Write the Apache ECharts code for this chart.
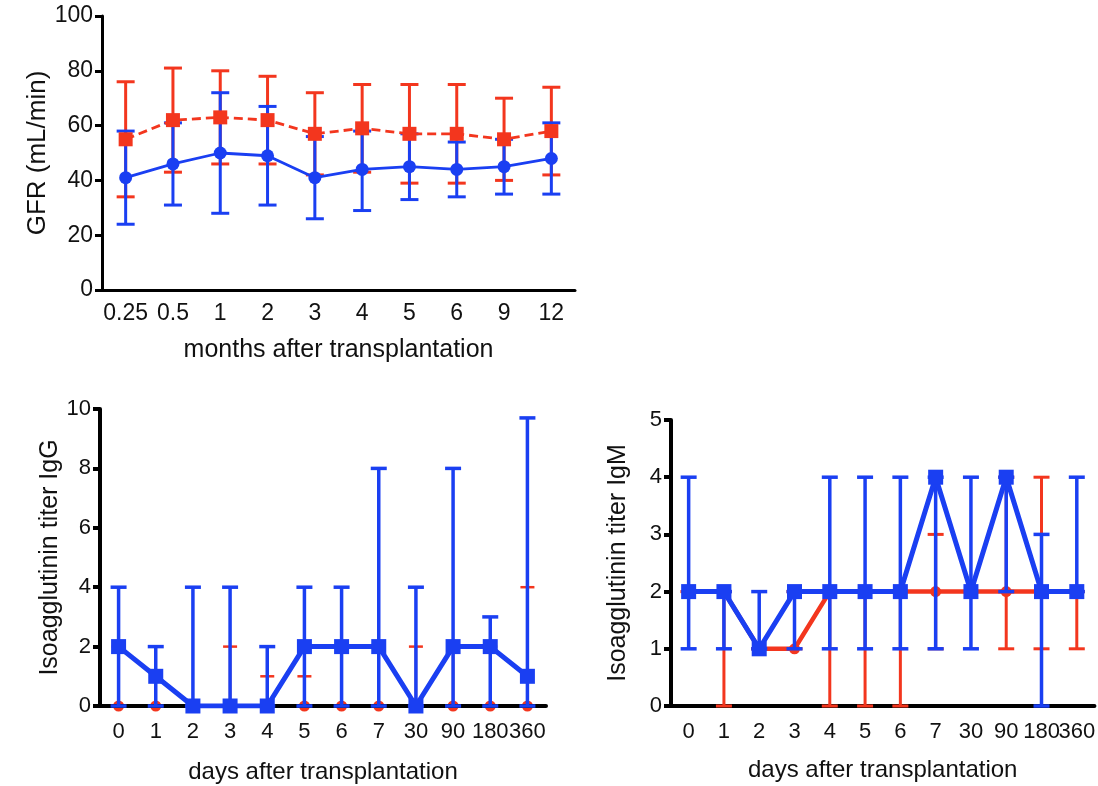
<!DOCTYPE html>
<html>
<head>
<meta charset="utf-8">
<script src="https://cdn.jsdelivr.net/npm/echarts@6/dist/echarts.min.js"></script>
<style>
  html, body { margin: 0; padding: 0; background: #fff; }
  #main { width: 1098px; height: 786px; }
</style>
</head>
<body>
<div id="main"></div>
<script>
// GFR chart (months)
var months = ['0.25', '0.5', '1', '2', '3', '4', '5', '6', '9', '12'];
var gfrRedMean = [55, 62, 63, 62, 57, 59, 57, 57, 55, 58];
var gfrRedHigh = [76, 81, 80, 78, 72, 75, 75, 75, 70, 74];
var gfrRedLow = [34, 43, 46, 46, 42, 43, 39, 39, 40, 42];
var gfrBlueMean = [41, 46, 50, 49, 41, 44, 45, 44, 45, 48];
var gfrBlueHigh = [58, 61, 72, 67, 56, 58, 57, 54, 55, 61];
var gfrBlueLow = [24, 31, 28, 31, 26, 29, 33, 34, 35, 35];

// Isoagglutinin titers (days)
var days = ['0', '1', '2', '3', '4', '5', '6', '7', '30', '90', '180', '360'];
var iggRedMed = [0, 0, 0, 0, 0, 0, 0, 0, 0, 0, 0, 0];
var iggRedHigh = [2, 0, 0, 2, 1, 1, 2, 2, 2, 2, 2, 4];
var iggRedLow = [0, 0, 0, 0, 0, 0, 0, 0, 0, 0, 0, 0];
var iggBlueMed = [2, 1, 0, 0, 0, 2, 2, 2, 0, 2, 2, 1];
var iggBlueHigh = [4, 2, 4, 4, 2, 4, 4, 8, 4, 8, 3, 9.7];
var iggBlueLow = [0, 0, 0, 0, 0, 0, 0, 0, 0, 0, 0, 0];

var igmRedMed = [2, 2, 1, 1, 2, 2, 2, 2, 2, 2, 2, 2];
var igmRedHigh = [2, 2, 1, 2, 2, 2, 2, 3, 2, 4, 4, 2];
var igmRedLow = [2, 0, 1, 1, 0, 0, 0, 1, 2, 1, 1, 1];
var igmBlueMed = [2, 2, 1, 2, 2, 2, 2, 4, 2, 4, 2, 2];
var igmBlueHigh = [4, 2, 2, 2, 4, 4, 4, 4, 4, 4, 3, 4];
var igmBlueLow = [1, 1, 1, 1, 1, 1, 1, 1, 1, 2, 0, 2];

var RED = '#f3361e';
var BLUE = '#1a3ff2';
var FONT = 'Liberation Sans';

function errorBars(idx, high, low, color, capW, lw, z) {
  return {
    type: 'custom',
    xAxisIndex: idx,
    yAxisIndex: idx,
    z: z,
    silent: true,
    data: high.map(function (h, i) { return [i, h, low[i]]; }),
    encode: { x: 0, y: [1, 2] },
    renderItem: function (params, api) {
      var x = api.value(0);
      var hi = api.coord([x, api.value(1)]);
      var lo = api.coord([x, api.value(2)]);
      var st = { stroke: color, lineWidth: lw };
      return {
        type: 'group',
        children: [
          { type: 'line', shape: { x1: hi[0], y1: hi[1], x2: lo[0], y2: lo[1] }, style: st },
          { type: 'line', shape: { x1: hi[0] - capW / 2, y1: hi[1], x2: hi[0] + capW / 2, y2: hi[1] }, style: st },
          { type: 'line', shape: { x1: lo[0] - capW / 2, y1: lo[1], x2: lo[0] + capW / 2, y2: lo[1] }, style: st }
        ]
      };
    }
  };
}

function lineSeries(idx, data, color, symbol, size, width, dashed, z) {
  return {
    type: 'line',
    xAxisIndex: idx,
    yAxisIndex: idx,
    z: z,
    data: data,
    symbol: symbol,
    symbolSize: size,
    showSymbol: true,
    itemStyle: { color: color },
    lineStyle: { color: color, width: width, type: dashed ? [9, 5] : 'solid' },
    emphasis: { disabled: true }
  };
}

function xAxisCfg(grid, cats, name, font, nameFont, lw, margin, nameGap, z) {
  return {
    type: 'category',
    gridIndex: grid,
    data: cats,
    boundaryGap: true,
    z: z,
    name: name,
    nameLocation: 'middle',
    nameGap: nameGap,
    nameTextStyle: { fontFamily: FONT, fontSize: nameFont, color: '#111' },
    axisLine: { onZero: false, lineStyle: { color: '#000', width: lw } },
    axisTick: { alignWithLabel: true, length: 8, lineStyle: { color: '#000', width: lw } },
    axisLabel: { fontFamily: FONT, fontSize: font, color: '#111', margin: margin, interval: 0 },
    splitLine: { show: false }
  };
}

function yAxisCfg(grid, max, step, name, font, nameFont, lw, nameGap) {
  return {
    type: 'value',
    gridIndex: grid,
    min: 0,
    max: max,
    interval: step,
    name: name,
    nameLocation: 'middle',
    nameGap: nameGap,
    nameTextStyle: { fontFamily: FONT, fontSize: nameFont, color: '#111' },
    axisLine: { show: true, onZero: false, lineStyle: { color: '#000', width: lw } },
    axisTick: { show: true, length: 7, lineStyle: { color: '#000', width: lw } },
    axisLabel: { fontFamily: FONT, fontSize: font, color: '#111', margin: 9 },
    splitLine: { show: false }
  };
}

var chart = echarts.init(document.getElementById('main'), null, { renderer: 'canvas' });

var option = {
  animation: false,
  backgroundColor: '#fff',
  grid: [
    { left: 102, top: 16, width: 473, height: 274 },
    { left: 100, top: 409, width: 446, height: 297 },
    { left: 671, top: 420, width: 427, height: 286 }
  ],
  xAxis: [
    xAxisCfg(0, months, 'months after transplantation', 23, 25, 3, 12, 48, 0),
    xAxisCfg(1, days, 'days after transplantation', 22, 24, 4, 15, 54, 4),
    xAxisCfg(2, days, 'days after transplantation', 22, 24, 4, 15, 52, 0)
  ],
  yAxis: [
    yAxisCfg(0, 100, 20, 'GFR (mL/min)', 23, 26, 3, 46),
    yAxisCfg(1, 10, 2, 'Isoagglutinin titer IgG', 22, 25, 4, 36),
    yAxisCfg(2, 5, 1, 'Isoagglutinin titer IgM', 22, 25, 4, 40)
  ],
  series: [
    // GFR
    errorBars(0, gfrRedHigh, gfrRedLow, RED, 18, 3, 2),
    errorBars(0, gfrBlueHigh, gfrBlueLow, BLUE, 18, 3, 3),
    lineSeries(0, gfrBlueMean, BLUE, 'circle', 13, 2.8, false, 4),
    lineSeries(0, gfrRedMean, RED, 'rect', 14, 2.8, true, 5),
    // IgG
    errorBars(1, iggRedHigh, iggRedLow, RED, 14, 2.5, 2),
    lineSeries(1, iggRedMed, RED, 'circle', 11, 4, false, 3),
    errorBars(1, iggBlueHigh, iggBlueLow, BLUE, 16, 3.5, 5),
    lineSeries(1, iggBlueMed, BLUE, 'rect', 15, 5, false, 6),
    // IgM
    errorBars(2, igmRedHigh, igmRedLow, RED, 16, 3, 2),
    lineSeries(2, igmRedMed, RED, 'circle', 11, 4.5, false, 3),
    errorBars(2, igmBlueHigh, igmBlueLow, BLUE, 16, 3.5, 4),
    lineSeries(2, igmBlueMed, BLUE, 'rect', 15, 5, false, 5)
  ]
};

chart.setOption(option);
</script>
</body>
</html>
